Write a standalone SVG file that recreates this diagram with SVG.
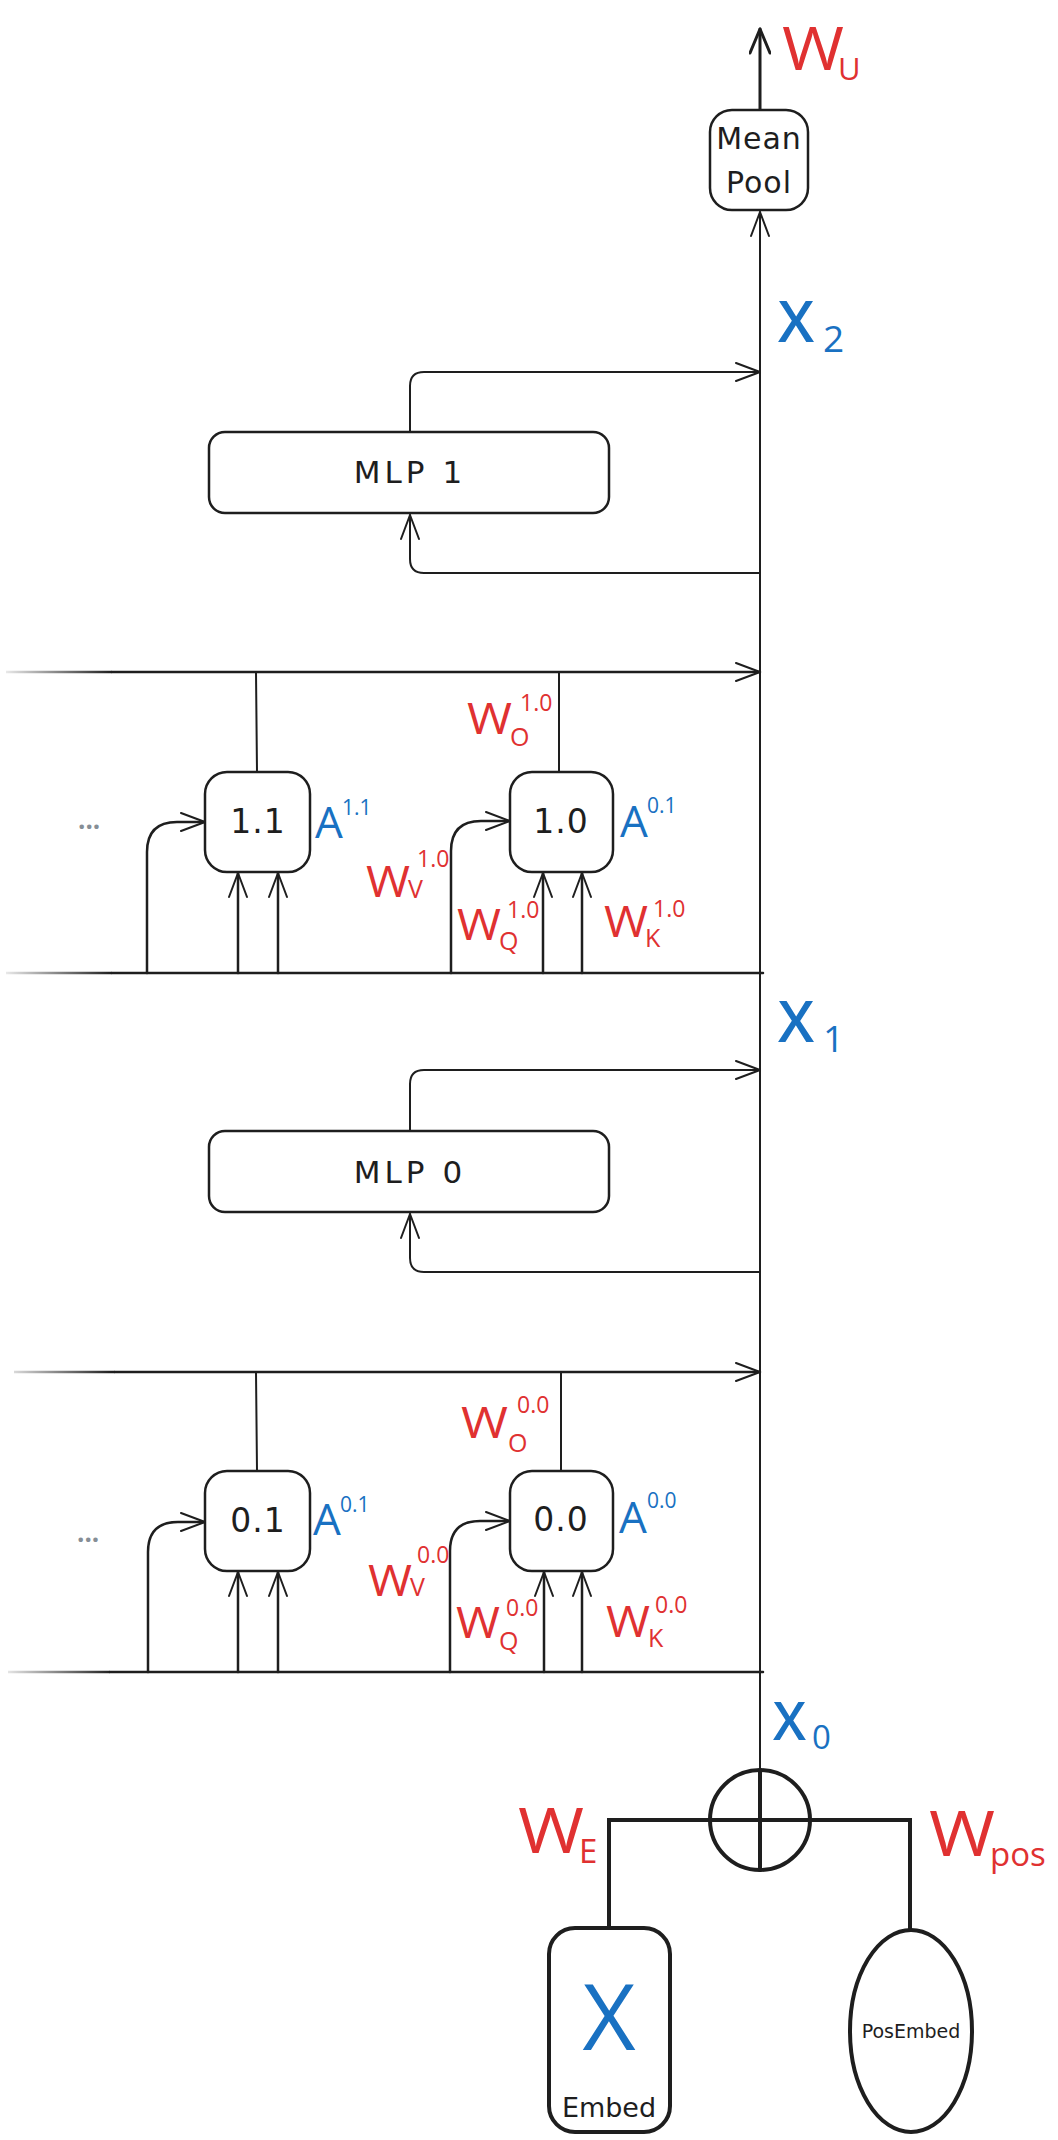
<svg xmlns="http://www.w3.org/2000/svg" width="1058" height="2140" viewBox="0 0 1058 2140">
  <style>
    .ln { fill: none; stroke: #1e1e1e; stroke-width: 2; stroke-linecap: round; stroke-linejoin: round; }
    .thick { fill: none; stroke: #1e1e1e; stroke-width: 4; stroke-linecap: round; }
    .box { fill: #ffffff; stroke: #1e1e1e; stroke-width: 2.5; }
    .hand { font-family: "DejaVu Sans", "Liberation Sans", sans-serif; fill: #1e1e1e; text-anchor: middle; }
    .red { font-family: "Open Sans", "Noto Sans", sans-serif; fill: #e03131; }
    .blue { font-family: "Open Sans", "Noto Sans", sans-serif; fill: #1971c2; }
    .dots { font-family: "Open Sans", sans-serif; fill: #868e96; font-weight: 700; }
  </style>
  <defs>
    <marker id="arr" viewBox="0 0 30 20" refX="28" refY="10" markerWidth="30" markerHeight="20" orient="auto" markerUnits="userSpaceOnUse">
      <path d="M4 1 L28 10 L4 19" fill="none" stroke="#1e1e1e" stroke-width="2" stroke-linecap="round" stroke-linejoin="round"/>
    </marker>
    <marker id="arrBig" viewBox="0 0 30 22" refX="28" refY="11" markerWidth="30" markerHeight="22" orient="auto" markerUnits="userSpaceOnUse">
      <path d="M4 1 L28 11 L4 21" fill="none" stroke="#1e1e1e" stroke-width="3" stroke-linecap="round" stroke-linejoin="round"/>
    </marker>
    <linearGradient id="fadeA" gradientUnits="userSpaceOnUse" x1="6" y1="0" x2="112" y2="0">
      <stop offset="0" stop-color="#1e1e1e" stop-opacity="0.1"/>
      <stop offset="1" stop-color="#1e1e1e" stop-opacity="1"/>
    </linearGradient>
  </defs>

  <!-- connectors -->
  <g id="connectors">
    <!-- residual stream -->
    <line class="ln" x1="760" y1="1770" x2="760" y2="212" marker-end="url(#arr)"/>
    <line class="ln" style="stroke-width:3" x1="760" y1="110" x2="760" y2="29" marker-end="url(#arrBig)"/>

    <!-- MLP 1 -->
    <path class="ln" d="M410 432 V386 Q410 372 424 372 H760" marker-end="url(#arr)"/>
    <path class="ln" d="M760 573 H424 Q410 573 410 559 V515" marker-end="url(#arr)"/>

    <!-- layer 1 attention -->
    <line stroke="url(#fadeA)" stroke-width="2.5" x1="6" y1="672" x2="112" y2="672"/>
    <line class="ln" style="stroke-width:2.5" x1="112" y1="672" x2="760" y2="672" marker-end="url(#arr)"/>
    <line stroke="url(#fadeA)" stroke-width="2.5" x1="6" y1="973" x2="112" y2="973"/>
    <line class="ln" style="stroke-width:2.5" x1="112" y1="973" x2="763" y2="973"/>
    <line class="ln" x1="256" y1="672" x2="257" y2="772"/>
    <line class="ln" x1="559" y1="672" x2="559" y2="772"/>
    <path class="ln" style="stroke-width:2.5" d="M147 973 V852 Q147 822 177 822 H205" marker-end="url(#arr)"/>
    <line class="ln" style="stroke-width:2.5" x1="238" y1="973" x2="238" y2="873" marker-end="url(#arr)"/>
    <line class="ln" style="stroke-width:2.5" x1="278" y1="973" x2="278" y2="873" marker-end="url(#arr)"/>
    <path class="ln" style="stroke-width:2.5" d="M451 973 V851 Q451 821 481 821 H510" marker-end="url(#arr)"/>
    <line class="ln" style="stroke-width:2.5" x1="543" y1="973" x2="543" y2="873" marker-end="url(#arr)"/>
    <line class="ln" style="stroke-width:2.5" x1="582" y1="973" x2="582" y2="873" marker-end="url(#arr)"/>

    <!-- MLP 0 -->
    <path class="ln" d="M410 1131 V1084 Q410 1070 424 1070 H760" marker-end="url(#arr)"/>
    <path class="ln" d="M760 1272 H424 Q410 1272 410 1258 V1214" marker-end="url(#arr)"/>

    <!-- layer 0 attention -->
    <line stroke="url(#fadeA)" stroke-width="2.5" x1="14" y1="1372" x2="115" y2="1372"/>
    <line class="ln" style="stroke-width:2.5" x1="115" y1="1372" x2="760" y2="1372" marker-end="url(#arr)"/>
    <line stroke="url(#fadeA)" stroke-width="2.5" x1="8" y1="1672" x2="110" y2="1672"/>
    <line class="ln" style="stroke-width:2.5" x1="110" y1="1672" x2="763" y2="1672"/>
    <line class="ln" x1="256" y1="1372" x2="257" y2="1471"/>
    <line class="ln" x1="561" y1="1372" x2="561" y2="1471"/>
    <path class="ln" style="stroke-width:2.5" d="M148 1672 V1552 Q148 1522 178 1522 H205" marker-end="url(#arr)"/>
    <line class="ln" style="stroke-width:2.5" x1="238" y1="1672" x2="238" y2="1572" marker-end="url(#arr)"/>
    <line class="ln" style="stroke-width:2.5" x1="278" y1="1672" x2="278" y2="1572" marker-end="url(#arr)"/>
    <path class="ln" style="stroke-width:2.5" d="M450 1672 V1551 Q450 1521 480 1521 H510" marker-end="url(#arr)"/>
    <line class="ln" style="stroke-width:2.5" x1="544" y1="1672" x2="544" y2="1572" marker-end="url(#arr)"/>
    <line class="ln" style="stroke-width:2.5" x1="582" y1="1672" x2="582" y2="1572" marker-end="url(#arr)"/>

    <!-- embedding sum -->
    <path class="thick" d="M609 1928 V1820 H910 V1930"/>
  </g>

  <!-- nodes -->
  <g id="mean-pool">
    <rect class="box" x="710" y="110" width="98" height="100" rx="22"/>
    <text class="hand" x="759" y="149" font-size="30" letter-spacing="1">Mean</text>
    <text class="hand" x="759" y="193" font-size="30" letter-spacing="1">Pool</text>
  </g>

  <g id="mlp1">
    <rect class="box" x="209" y="432" width="400" height="81" rx="16"/>
    <text class="hand" x="410" y="483" font-size="31" letter-spacing="4">MLP 1</text>
  </g>

  <g id="head-1-1">
    <rect class="box" x="205" y="772" width="105" height="100" rx="22"/>
    <text class="hand" x="258" y="833" font-size="33" letter-spacing="1">1.1</text>
  </g>

  <g id="head-1-0">
    <rect class="box" x="510" y="772" width="103" height="100" rx="22"/>
    <text class="hand" x="561" y="833" font-size="33" letter-spacing="1">1.0</text>
  </g>

  <g id="mlp0">
    <rect class="box" x="209" y="1131" width="400" height="81" rx="16"/>
    <text class="hand" x="410" y="1183" font-size="31" letter-spacing="4">MLP 0</text>
  </g>

  <g id="head-0-1">
    <rect class="box" x="205" y="1471" width="105" height="100" rx="22"/>
    <text class="hand" x="258" y="1532" font-size="33" letter-spacing="1">0.1</text>
  </g>

  <g id="head-0-0">
    <rect class="box" x="510" y="1471" width="103" height="100" rx="22"/>
    <text class="hand" x="561" y="1531" font-size="33" letter-spacing="1">0.0</text>
  </g>

  <g id="sum">
    <circle cx="760" cy="1820" r="50" fill="#ffffff" stroke="#1e1e1e" stroke-width="4"/>
    <line class="thick" x1="760" y1="1770" x2="760" y2="1870"/>
    <line class="thick" x1="710" y1="1820" x2="810" y2="1820"/>
  </g>

  <g id="embed">
    <rect class="box" x="549" y="1928" width="121" height="204" rx="26" style="stroke-width:4"/>
    <text class="blue" x="609" y="2050" font-size="92" font-weight="500" text-anchor="middle">X</text>
    <text class="hand" x="609" y="2117" font-size="27">Embed</text>
  </g>

  <g id="pos-embed">
    <ellipse cx="911" cy="2031" rx="61" ry="101" fill="#ffffff" stroke="#1e1e1e" stroke-width="4"/>
    <text class="hand" x="911" y="2038" font-size="19">PosEmbed</text>
  </g>

  <!-- labels -->
  <g id="labels">
    <text class="red" x="782" y="70" font-size="60" textLength="62" lengthAdjust="spacingAndGlyphs">W</text>
    <text class="red" x="838" y="80" font-size="31">U</text>

    <text class="blue" x="778" y="342" font-size="58" font-weight="600">X</text>
    <text class="blue" x="823" y="352" font-size="37">2</text>
    <text class="blue" x="778" y="1042" font-size="58" font-weight="600">X</text>
    <text class="blue" x="823" y="1052" font-size="37">1</text>
    <text class="blue" x="773" y="1740" font-size="53" font-weight="600">X</text>
    <text class="blue" x="812" y="1749" font-size="33">0</text>

    <text class="dots" x="78" y="829" font-size="26">...</text>
    <text class="dots" x="77" y="1542" font-size="26">...</text>

    <!-- layer 1 -->
    <text class="blue" x="315" y="838" font-size="44">A</text>
    <text class="blue" x="342" y="815" font-size="21">1.1</text>
    <text class="blue" x="620" y="837" font-size="44">A</text>
    <text class="blue" x="647" y="813" font-size="21">0.1</text>

    <text class="red" x="467" y="734" font-size="44" textLength="45" lengthAdjust="spacingAndGlyphs">W</text>
    <text class="red" x="510" y="746" font-size="25">O</text>
    <text class="red" x="520" y="711" font-size="23">1.0</text>

    <text class="red" x="366" y="897" font-size="44" textLength="44" lengthAdjust="spacingAndGlyphs">W</text>
    <text class="red" x="408" y="898" font-size="25">V</text>
    <text class="red" x="417" y="867" font-size="23">1.0</text>

    <text class="red" x="457" y="940" font-size="44" textLength="44" lengthAdjust="spacingAndGlyphs">W</text>
    <text class="red" x="499" y="950" font-size="25">Q</text>
    <text class="red" x="507" y="918" font-size="23">1.0</text>

    <text class="red" x="604" y="937" font-size="44" textLength="44" lengthAdjust="spacingAndGlyphs">W</text>
    <text class="red" x="645" y="947" font-size="25">K</text>
    <text class="red" x="653" y="917" font-size="23">1.0</text>

    <!-- layer 0 -->
    <text class="blue" x="313" y="1535" font-size="44">A</text>
    <text class="blue" x="340" y="1512" font-size="21">0.1</text>
    <text class="blue" x="619" y="1533" font-size="44">A</text>
    <text class="blue" x="647" y="1508" font-size="21">0.0</text>

    <text class="red" x="461" y="1438" font-size="44" textLength="47" lengthAdjust="spacingAndGlyphs">W</text>
    <text class="red" x="508" y="1452" font-size="25">O</text>
    <text class="red" x="517" y="1413" font-size="23">0.0</text>

    <text class="red" x="368" y="1596" font-size="44" textLength="44" lengthAdjust="spacingAndGlyphs">W</text>
    <text class="red" x="410" y="1596" font-size="25">V</text>
    <text class="red" x="417" y="1563" font-size="23">0.0</text>

    <text class="red" x="456" y="1638" font-size="44" textLength="44" lengthAdjust="spacingAndGlyphs">W</text>
    <text class="red" x="499" y="1650" font-size="25">Q</text>
    <text class="red" x="506" y="1616" font-size="23">0.0</text>

    <text class="red" x="606" y="1637" font-size="44" textLength="44" lengthAdjust="spacingAndGlyphs">W</text>
    <text class="red" x="648" y="1647" font-size="25">K</text>
    <text class="red" x="655" y="1613" font-size="23">0.0</text>

    <text class="red" x="518" y="1853" font-size="62" textLength="66" lengthAdjust="spacingAndGlyphs">W</text>
    <text class="red" x="579" y="1863" font-size="33">E</text>
    <text class="red" x="929" y="1856" font-size="62" textLength="66" lengthAdjust="spacingAndGlyphs">W</text>
    <text class="red" x="990" y="1866" font-size="33">pos</text>
  </g>
</svg>
